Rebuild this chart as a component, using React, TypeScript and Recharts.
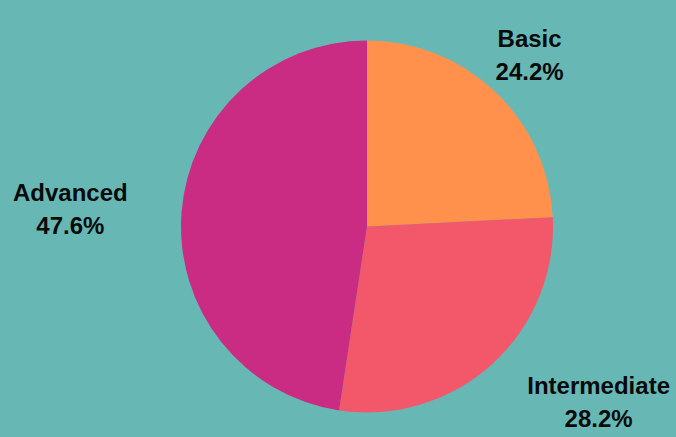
import { Cell, Pie, PieChart } from "recharts";

const levels = ["Basic", "Intermediate", "Advanced"];
const shares = [24.2, 28.2, 47.6];
const sliceColors = ["#FF914D", "#F25869", "#CB2C83"];

const data = levels.map((name, i) => ({ name, value: shares[i] }));

const W = 676;
const H = 437;
const FONT = 24;
const FONT_FAMILY = "'Liberation Sans', Arial, sans-serif";
const RAD = Math.PI / 180;

let ctx: CanvasRenderingContext2D | null = null;
function textWidth(s: string) {
  if (!ctx) ctx = document.createElement("canvas").getContext("2d");
  if (!ctx) return s.length * FONT * 0.6;
  ctx.font = `bold ${FONT}px ${FONT_FAMILY}`;
  return ctx.measureText(s).width;
}

function SliceLabel(props: any) {
  const { cx, cy, midAngle, outerRadius, name, value } = props;
  const pct = `${Number(value).toFixed(1)}%`;
  const r = outerRadius + 50;
  let x = cx + r * Math.cos(-midAngle * RAD);
  const y = cy + r * Math.sin(-midAngle * RAD);

  // box of the two lines, centred on (x, y)
  const w = Math.max(textWidth(String(name)), textWidth(pct));
  const nx = Math.max(x - w / 2, Math.min(cx, x + w / 2));
  const ny = Math.max(y - 25, Math.min(cy, y + 25));
  const hitsPie = Math.hypot(nx - cx, ny - cy) < outerRadius;

  // push the block outwards so its inner edge sits on the label point
  if (hitsPie) x += x > cx ? w / 2 + 2 : -w / 2 - 4;

  return (
    <text
      x={x}
      y={y}
      textAnchor="middle"
      fontFamily={FONT_FAMILY}
      fontWeight="bold"
      fontSize={FONT}
      fill="#0a0a0a"
    >
      <tspan x={x} y={y - 8}>
        {name}
      </tspan>
      <tspan x={x} y={y + 25}>
        {pct}
      </tspan>
    </text>
  );
}

export default function App() {
  return (
    <div
      style={{
        position: "fixed",
        top: 0,
        left: 0,
        width: W,
        height: H,
        background: "#67B8B5",
      }}
    >
      <PieChart width={W} height={H} margin={{ top: 0, right: 0, bottom: 0, left: 0 }}>
        <Pie
          data={data}
          dataKey="value"
          nameKey="name"
          cx={367}
          cy={226.5}
          outerRadius={186}
          startAngle={90}
          endAngle={-270}
          stroke="none"
          label={SliceLabel}
          labelLine={false}
          isAnimationActive={false}
        >
          {data.map((d, i) => (
            <Cell key={d.name} fill={sliceColors[i]} />
          ))}
        </Pie>
      </PieChart>
    </div>
  );
}
